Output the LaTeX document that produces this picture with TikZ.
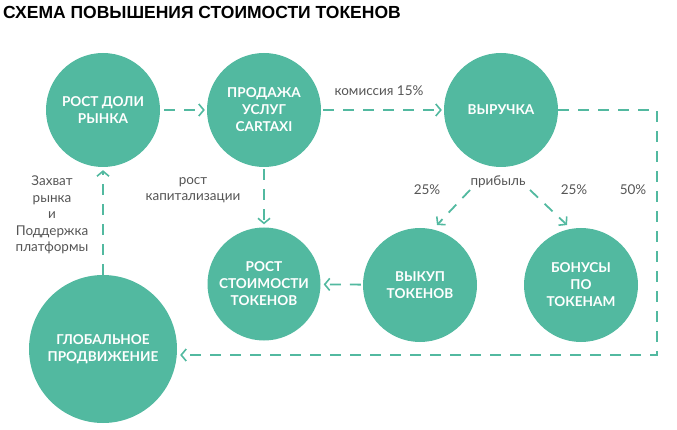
\documentclass[tikz,border=0pt]{standalone}
\usepackage{fontspec}
\setmainfont{Lato}
\newfontfamily\titlefont{Liberation Sans}
\usetikzlibrary{arrows.meta}
\definecolor{mint}{RGB}{82,185,160}
\definecolor{labgray}{RGB}{85,85,85}
\begin{document}
\begin{tikzpicture}[x=1pt,y=-1pt,
  bub/.style={circle,fill=mint,draw=none,minimum size=#1,inner sep=0pt,text=white,
    font=\bfseries\fontsize{13.6}{17}\selectfont,align=center},
  flow/.style={draw=mint,line width=1.8pt,dash pattern=on 11pt off 9pt,
    -{Straight Barb[length=5pt,width=12pt,line width=1.6pt]}},
  lab/.style={text=labgray,font=\fontsize{13.5}{16.5}\selectfont,align=center,inner sep=0pt}]
\useasboundingbox (0,0) rectangle (677,430);

\node[anchor=west,inner sep=0pt,font=\titlefont\bfseries\fontsize{17.5}{20}\selectfont] (title) at (3,12) {СХЕМА ПОВЫШЕНИЯ СТОИМОСТИ ТОКЕНОВ};

\node[bub=114pt] (dol) at (103,110) {РОСТ ДОЛИ\\РЫНКА};
\node[bub=114pt] (prod) at (264,110) {ПРОДАЖА\\УСЛУГ\\CARTAXI};
\node[bub=114pt] (vyr) at (501,110) {ВЫРУЧКА};
\node[bub=113pt] (rost) at (264,284) {РОСТ\\СТОИМОСТИ\\ТОКЕНОВ};
\node[bub=114pt] (vyk) at (420,285) {ВЫКУП\\ТОКЕНОВ};
\node[bub=114pt] (bon) at (581,285) {БОНУСЫ\\ПО\\ТОКЕНАМ};
\node[bub=148pt] (glob) at (103,349) {ГЛОБАЛЬНОЕ\\ПРОДВИЖЕНИЕ};

\coordinate (c1) at (657,110);
\coordinate (c2) at (657,355);
\coordinate (p1) at (470,190);
\coordinate (q1) at (437,225);
\coordinate (p2) at (530,190);
\coordinate (q2) at (567,225);

\draw[flow,shorten <=4pt,shorten >=2pt] (dol) -- (prod);
\draw[flow,shorten <=2pt,shorten >=2pt] (prod) -- (vyr);
\draw[flow,shorten <=2pt,shorten >=3pt] (prod) -- (rost);
\draw[flow,shorten <=2pt,shorten >=3pt] (vyk) -- (rost);
\draw[flow,shorten >=3pt] (glob) -- (dol);
\draw[flow,shorten >=3pt] (vyr.east) -- (c1) -- (c2) -- (c2 -| glob.east);
\draw[flow] (p1) -- (q1);
\draw[flow] (p2) -- (q2);

\node[lab] (kom) at (379,91) {комиссия 15\%};
\node[lab] (prib) at (498,182) {прибыль};
\node[lab] (pa) at (427,190) {25\%};
\node[lab] (pb) at (574,190) {25\%};
\node[lab] (pc) at (633,190) {50\%};
\node[lab] (kap) at (193,190) {рост\\капитализации};
\node[lab] (zah) at (52,215) {Захват\\рынка\\и\\Поддержка\\платформы};
\end{tikzpicture}
\end{document}
